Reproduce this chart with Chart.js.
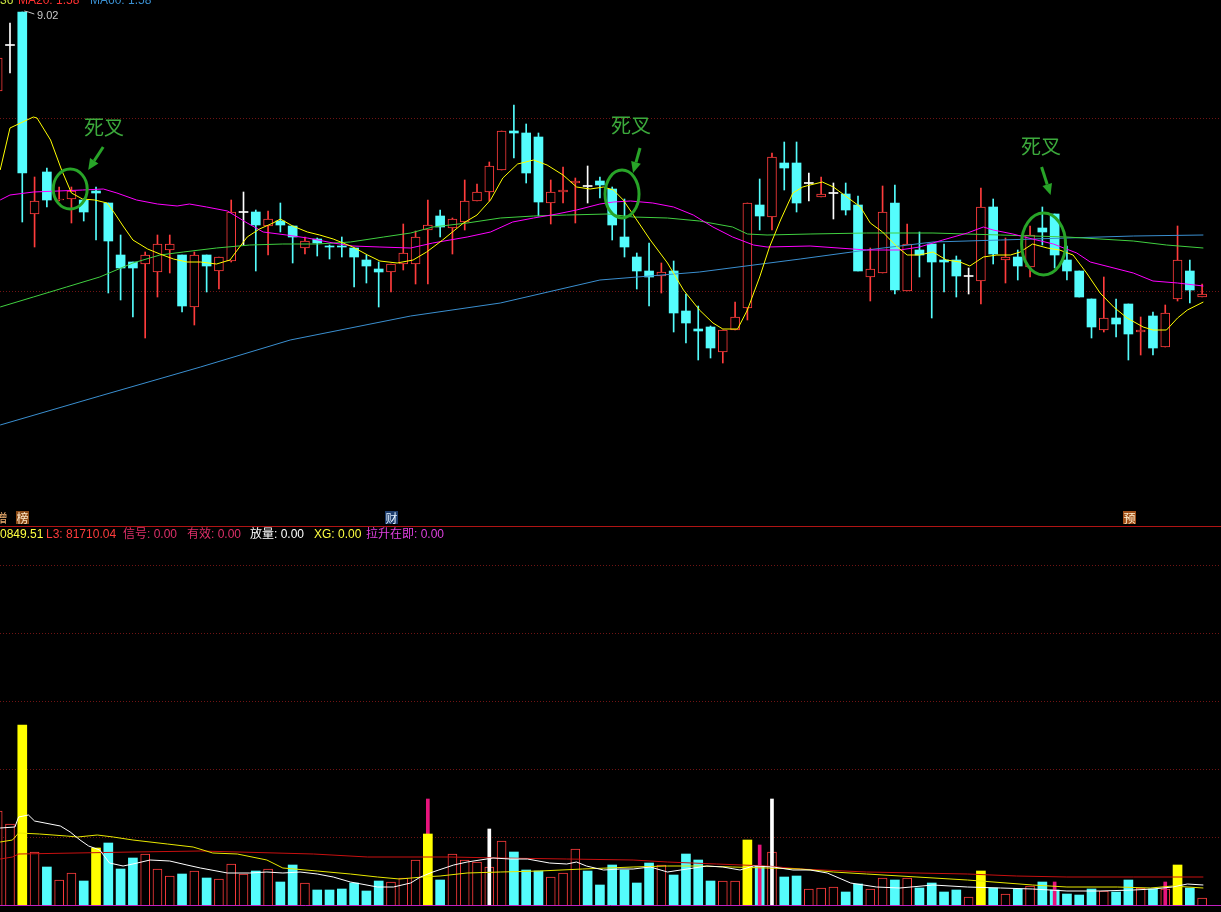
<!DOCTYPE html>
<html>
<head>
<meta charset="utf-8">
<script src="https://cdn.jsdelivr.net/npm/chart.js@4.4.1/dist/chart.umd.min.js"></script>
<style>
html, body { margin: 0; padding: 0; background: #000; width: 1221px; height: 912px; overflow: hidden; position: relative; font-family: "Liberation Sans", "Noto Sans CJK SC", sans-serif; }
canvas { position: absolute; left: 0; }
#kline { top: 0; }
#vol { top: 527px; }
.t { position: absolute; white-space: nowrap; font-size: 12px; line-height: 14px; }
.tag { position: absolute; top: 511px; width: 13px; height: 13px; font-size: 12px; line-height: 13px; text-align: center; font-family: "Noto Sans CJK SC", sans-serif; }
.dc { position: absolute; font-family: "Noto Sans CJK SC", sans-serif; font-size: 20px; line-height: 22px; color: #3caa3c; }
#sep { position: absolute; left: 0; top: 526px; width: 1221px; height: 1px; background: #b01414; }
</style>
</head>
<body>
<canvas id="kline" width="1221" height="510"></canvas>
<canvas id="vol" width="1221" height="385"></canvas>
<div id="sep"></div>

<div class="t" style="top:-7px;left:0;color:#c8e040">36</div>
<div class="t" style="top:-7px;left:18px;color:#ff3030">MA20: 1.58</div>
<div class="t" style="top:-7px;left:90px;color:#3a8fd0">MA60: 1.58</div>
<div class="t" style="top:8px;left:37px;font-size:11px;color:#c8c8c8">9.02</div>

<div class="dc" style="left:84px;top:116px">死叉</div>
<div class="dc" style="left:611px;top:114px">死叉</div>
<div class="dc" style="left:1021px;top:135px">死叉</div>

<div class="tag" style="left:-5px;color:#f0b070">增</div>
<div class="tag" style="left:16px;background:#8b4a16;color:#ffe8c8">榜</div>
<div class="tag" style="left:385px;background:#1c3c6c;color:#e0f0ff">财</div>
<div class="tag" style="left:1123px;background:#a0501a;color:#fff0d0">预</div>

<div class="t" style="top:527px;left:0;color:#ffff40">0849.51</div>
<div class="t" style="top:527px;left:46px;color:#ff3c3c">L3: 81710.04</div>
<div class="t" style="top:527px;left:123px;color:#e0306a">信号: 0.00</div>
<div class="t" style="top:527px;left:187px;color:#e0306a">有效: 0.00</div>
<div class="t" style="top:527px;left:250px;color:#ffffff">放量: 0.00</div>
<div class="t" style="top:527px;left:314px;color:#ffff40">XG: 0.00</div>
<div class="t" style="top:527px;left:366px;color:#e040e0">拉升在即: 0.00</div>

<script>
// daily candles, price in yuan
const openP = [8.23, 8.69, 9.02, 7.00, 7.42, 7.14, 7.15, 7.14, 7.23, 7.11,
    6.59, 6.52, 6.50, 6.42, 6.64, 6.59, 6.07, 6.59, 6.43, 6.53,
    7.02, 7.02, 6.88, 6.93, 6.88, 6.66, 6.75, 6.68, 6.68, 6.66,
    6.54, 6.45, 6.42, 6.50, 6.50, 6.84, 6.98, 6.86, 6.92, 7.13,
    7.22, 7.44, 7.83, 7.81, 7.77, 7.11, 7.22, 7.31, 7.28, 7.33,
    7.25, 6.77, 6.57, 6.43, 6.38, 6.43, 6.03, 5.85, 5.87, 5.62,
    5.84, 6.06, 7.09, 6.97, 7.51, 7.51, 7.31, 7.17, 7.21, 7.20,
    7.09, 6.37, 6.41, 7.11, 6.23, 6.64, 6.70, 6.54, 6.54, 6.38,
    6.33, 7.07, 6.54, 6.57, 6.47, 6.86, 7.00, 6.54, 6.43, 6.15,
    5.84, 5.96, 6.10, 5.82, 5.98, 5.67, 6.15, 6.43, 6.17];
const highP = [8.62, 8.91, 9.02, 7.37, 7.46, 7.27, 7.27, 7.15, 7.27, 7.11,
    6.79, 6.52, 6.62, 6.79, 6.79, 6.59, 6.62, 6.59, 6.57, 7.14,
    7.22, 7.04, 7.03, 7.11, 6.88, 6.77, 6.76, 6.69, 6.77, 6.66,
    6.59, 6.52, 6.50, 6.90, 6.83, 7.14, 7.04, 6.96, 7.34, 7.30,
    7.52, 7.83, 8.09, 7.90, 7.81, 7.34, 7.47, 7.36, 7.48, 7.37,
    7.27, 7.15, 6.61, 6.71, 6.51, 6.53, 6.20, 6.08, 5.88, 5.84,
    6.12, 7.11, 7.35, 7.61, 7.72, 7.72, 7.41, 7.37, 7.31, 7.31,
    7.18, 6.66, 7.28, 7.29, 6.90, 6.82, 6.70, 6.70, 6.58, 6.46,
    7.26, 7.15, 6.76, 6.64, 6.88, 7.07, 7.00, 6.68, 6.43, 6.15,
    6.37, 6.15, 6.10, 5.97, 6.02, 6.09, 6.88, 6.54, 6.30];
const lowP = [8.18, 8.41, 6.92, 6.67, 7.07, 7.13, 6.91, 6.93, 6.74, 6.21,
    6.14, 5.97, 5.76, 6.17, 6.41, 6.02, 5.89, 6.22, 6.25, 6.52,
    6.69, 6.43, 6.59, 6.82, 6.51, 6.60, 6.58, 6.55, 6.57, 6.27,
    6.31, 6.07, 6.22, 6.44, 6.30, 6.30, 6.77, 6.60, 6.84, 7.13,
    7.13, 7.44, 7.56, 7.31, 6.98, 6.90, 7.11, 6.91, 7.11, 7.16,
    6.74, 6.57, 6.25, 6.08, 6.21, 5.82, 5.71, 5.54, 5.56, 5.51,
    5.84, 5.94, 6.84, 6.84, 7.24, 7.02, 7.13, 7.17, 6.95, 6.99,
    6.43, 6.13, 6.41, 6.20, 6.23, 6.37, 5.96, 6.22, 6.17, 6.20,
    6.10, 6.50, 6.31, 6.34, 6.37, 6.69, 6.46, 6.34, 6.17, 5.76,
    5.82, 5.77, 5.54, 5.59, 5.59, 5.67, 6.13, 6.11, 6.17];
const closeP = [8.56, 8.69, 7.41, 7.13, 7.14, 7.15, 7.23, 7.02, 7.21, 6.73,
    6.46, 6.46, 6.59, 6.70, 6.70, 6.08, 6.59, 6.48, 6.57, 7.02,
    7.02, 6.89, 6.95, 6.89, 6.77, 6.73, 6.71, 6.67, 6.67, 6.57,
    6.48, 6.42, 6.50, 6.61, 6.77, 6.89, 6.87, 6.95, 7.13, 7.22,
    7.48, 7.83, 7.81, 7.41, 7.12, 7.22, 7.24, 7.33, 7.28, 7.29,
    6.89, 6.67, 6.43, 6.37, 6.42, 6.01, 5.91, 5.83, 5.66, 5.84,
    5.97, 7.11, 6.98, 7.57, 7.46, 7.11, 7.31, 7.20, 7.21, 7.04,
    6.43, 6.45, 7.02, 6.24, 6.70, 6.59, 6.52, 6.52, 6.38, 6.38,
    7.07, 6.60, 6.57, 6.48, 6.79, 6.82, 6.59, 6.43, 6.17, 5.87,
    5.96, 5.90, 5.80, 5.84, 5.66, 6.01, 6.54, 6.24, 6.20];

// volume (arbitrary units, grid step = 68)
const volume = [94, 81, 180, 53, 38, 25, 32, 24, 57, 62,
    36, 47, 51, 36, 29, 31, 34, 27, 26, 41,
    31, 34, 36, 23, 40, 22, 15, 15, 16, 22,
    14, 24, 23, 27, 45, 71, 25, 51, 45, 43,
    38, 64, 53, 35, 34, 28, 32, 56, 34, 20,
    40, 35, 22, 42, 40, 30, 51, 45, 24, 24,
    24, 65, 39, 53, 28, 29, 16, 17, 18, 13,
    21, 16, 27, 25, 27, 17, 22, 13, 15, 8,
    34, 17, 11, 16, 19, 23, 15, 11, 10, 16,
    14, 13, 25, 17, 16, 16, 40, 17, 7];
const fangLiangDays = [2, 8, 35, 61, 80, 96];
const laShengBars = [[35, 106], [62, 60], [86, 23], [95, 23]];
const xinHaoBars = [[40, 76], [63, 106]];

// moving averages: [day index, value]
const ma5 = [[0.2, 7.44], [1.0, 7.86], [2.9, 7.97], [3.2, 7.96], [4.3, 7.74], [5.2, 7.44], [6.0, 7.21], [6.9, 7.15],
    [7.9, 7.14], [8.9, 7.11], [9.5, 7.01], [10.2, 6.88], [11.0, 6.74], [12.2, 6.65], [13.2, 6.60], [14.3, 6.55],
    [15.4, 6.52], [16.5, 6.52], [17.8, 6.50], [18.9, 6.54], [19.5, 6.64], [20.3, 6.77], [21.3, 6.85], [22.4, 6.91],
    [23.0, 6.95], [24.0, 6.88], [25.2, 6.82], [26.2, 6.79], [27.3, 6.75], [28.1, 6.71], [28.9, 6.67], [30.1, 6.59],
    [31.1, 6.53], [32.5, 6.51], [33.8, 6.54], [34.9, 6.62], [36.2, 6.74], [37.9, 6.91], [39.0, 6.99], [40.1, 7.14],
    [41.1, 7.36], [42.3, 7.50], [43.6, 7.54], [44.7, 7.49], [46.0, 7.39], [47.1, 7.27], [48.2, 7.25], [49.3, 7.27],
    [50.1, 7.24], [50.9, 7.14], [52.0, 6.94], [53.1, 6.74], [54.5, 6.51], [55.8, 6.24], [57.1, 6.04], [58.2, 5.91],
    [59.0, 5.85], [60.2, 5.85], [61.0, 6.04], [62.0, 6.37], [62.8, 6.67], [63.7, 6.94], [64.7, 7.21], [65.5, 7.27],
    [66.1, 7.29], [67.1, 7.32], [68.0, 7.27], [69.1, 7.17], [70.2, 7.07], [71.0, 6.91], [72.0, 6.82], [73.2, 6.67],
    [74.0, 6.59], [75.0, 6.59], [76.1, 6.62], [77.2, 6.54], [78.3, 6.52], [79.1, 6.48], [80.2, 6.57], [81.3, 6.59],
    [82.4, 6.59], [83.2, 6.62], [84.2, 6.70], [85.4, 6.66], [86.4, 6.64], [87.5, 6.59], [88.6, 6.41], [89.7, 6.21],
    [90.8, 6.07], [91.9, 5.96], [93.2, 5.87], [94.0, 5.84], [95.1, 5.84], [96.0, 5.96], [96.8, 6.04], [98.1, 6.12]];
const ma10 = [[0.2, 7.14], [1.0, 7.19], [2.9, 7.22], [6.9, 7.24], [8.6, 7.25], [9.7, 7.21], [11.3, 7.14], [13.0, 7.10],
    [14.6, 7.08], [15.6, 7.10], [17.0, 7.07], [18.7, 7.03], [20.3, 6.91], [21.6, 6.82], [23.5, 6.79], [25.2, 6.76],
    [27.3, 6.71], [28.9, 6.68], [31.1, 6.67], [33.6, 6.66], [35.4, 6.71], [38.2, 6.77], [40.1, 6.82], [41.9, 6.92],
    [43.6, 6.96], [45.5, 7.00], [47.1, 7.04], [49.0, 7.10], [50.1, 7.12], [51.5, 7.13], [53.3, 7.11], [55.0, 7.07],
    [56.6, 6.99], [58.2, 6.87], [59.8, 6.77], [61.5, 6.69], [62.6, 6.67], [66.1, 6.68], [70.7, 6.64], [73.4, 6.64],
    [75.0, 6.67], [76.9, 6.74], [78.9, 6.81], [80.2, 6.87], [81.0, 6.84], [82.6, 6.80], [84.2, 6.75], [85.9, 6.70],
    [87.8, 6.61], [88.9, 6.52], [90.5, 6.47], [92.4, 6.41], [94.0, 6.33], [96.0, 6.31], [98.1, 6.28]];
const ma20 = [[0.2, 6.07], [2.9, 6.17], [5.6, 6.27], [8.3, 6.37], [11.0, 6.51], [13.2, 6.59], [15.1, 6.62], [17.8, 6.66],
    [20.5, 6.69], [23.2, 6.70], [26.0, 6.70], [28.7, 6.72], [31.4, 6.77], [33.6, 6.81], [35.4, 6.87], [38.2, 6.91],
    [40.9, 6.96], [43.6, 6.98], [46.3, 6.99], [49.6, 7.00], [51.7, 6.97], [54.5, 6.96], [57.1, 6.93], [59.8, 6.87],
    [61.0, 6.80], [62.6, 6.79], [66.1, 6.80], [70.7, 6.81], [76.1, 6.81], [81.6, 6.79], [87.0, 6.77], [92.4, 6.73],
    [95.1, 6.69], [98.1, 6.66]];
const ma60 = [[0.2, 4.89], [8.3, 5.18], [16.5, 5.47], [23.8, 5.74], [33.6, 5.98], [40.9, 6.11], [49.0, 6.34],
    [57.1, 6.42], [65.3, 6.55], [70.7, 6.64], [76.1, 6.72], [81.6, 6.74], [87.0, 6.76], [92.4, 6.78], [98.1, 6.79]];

const volMa1 = [[0.2, 77], [1.4, 78], [1.7, 88], [2.5, 90], [3.0, 84], [5.1, 79], [5.9, 73], [6.7, 65], [7.4, 59],
    [8.3, 55], [9.1, 42], [10.2, 39], [11.0, 41], [12.4, 45], [14.0, 44], [15.4, 40], [16.5, 37], [18.7, 32],
    [20.5, 32], [21.9, 33], [23.2, 32], [24.6, 33], [26.0, 31], [27.3, 28], [28.7, 23], [30.9, 18], [32.2, 18],
    [33.6, 22], [34.4, 28], [35.4, 33], [37.1, 40], [38.2, 43], [40.3, 47], [41.7, 46], [43.1, 46], [44.9, 42],
    [46.3, 41], [47.1, 43], [47.9, 39], [49.3, 35], [50.6, 36], [51.7, 36], [53.1, 38], [54.5, 33], [56.1, 36],
    [57.7, 39], [59.0, 38], [60.4, 35], [61.5, 39], [63.1, 38], [64.7, 35], [66.1, 35], [67.5, 32], [69.4, 22],
    [71.5, 18], [73.4, 17], [76.1, 20], [78.9, 18], [81.6, 17], [84.2, 16], [87.0, 14], [89.7, 14], [92.4, 15],
    [94.0, 16], [95.6, 18], [96.8, 21], [98.1, 20]];
const volMa2 = [[0.2, 63], [1.2, 65], [1.7, 72], [3.4, 71], [5.6, 69], [6.5, 68], [8.1, 70], [9.4, 68], [11.0, 65],
    [13.8, 61], [15.9, 58], [17.5, 52], [19.5, 51], [21.9, 45], [23.2, 37], [26.0, 34], [28.7, 31], [30.9, 28],
    [32.7, 26], [34.6, 28], [36.0, 29], [38.2, 32], [40.9, 33], [44.1, 34], [47.6, 36], [51.7, 38], [54.5, 39],
    [57.1, 39], [59.8, 38], [62.6, 37], [65.3, 36], [68.0, 33], [70.7, 31], [74.8, 28], [78.9, 25], [84.2, 20],
    [87.0, 18], [91.1, 18], [93.8, 17], [95.6, 19], [98.1, 17]];
const volMa3 = [[0.2, 46], [1.2, 48], [1.7, 51], [11.0, 53], [16.5, 54], [25.7, 51], [30.1, 48], [36.8, 48],
    [40.9, 47], [46.3, 46], [51.7, 45], [54.5, 43], [58.5, 41], [62.6, 39], [65.3, 36], [70.7, 33], [74.8, 32],
    [78.9, 31], [82.9, 29], [87.0, 28], [92.4, 28], [98.1, 28]];

const priceGrid = [7.96, 6.23];
const volGrid = [68, 136, 204, 272, 340];
const deathCross = [[5.9, 7.25], [50.8, 7.20], [85.1, 6.70]];
const highMark = [2, 9.02];

const UP = '#ff3c3c';
const DOWN = '#54fcfc';
const DOJI = '#ffffff';
const GREEN = '#28a428';

const xMin = 0.187;
const xAxis = { type: 'linear', display: false, offset: false, min: xMin, max: xMin + 1221 / 12.29 };

function candleColor(i) {
    if (closeP[i] > openP[i]) return UP;
    if (closeP[i] < openP[i]) return DOWN;
    return DOJI;
}
function volUp(i) {
    if (closeP[i] !== openP[i]) return closeP[i] > openP[i];
    return i === 0 || closeP[i] >= closeP[i - 1];
}
function toPts(arr) {
    return arr.map(p => ({ x: p[0], y: p[1] }));
}
function lineSet(arr, color) {
    return { type: 'line', data: toPts(arr), borderColor: color, borderWidth: 1, pointRadius: 0, fill: false, tension: 0 };
}
function gridAxis(min, max, ticks) {
    return {
        display: true, position: 'left', min: min, max: max,
        ticks: { display: false },
        border: { display: false, dash: [1, 2] },
        grid: { color: '#701414', lineWidth: 1, drawTicks: false },
        afterBuildTicks: axis => { axis.ticks = ticks.map(v => ({ value: v })); },
        afterFit: axis => { axis.width = 0; },
    };
}

const days = openP.map((_, i) => i);

const bodies = days.map(i => {
    const lo = Math.min(openP[i], closeP[i]);
    const hi = Math.max(openP[i], closeP[i]);
    if (hi - lo < 0.005) return { x: i, y: [lo - 0.005, lo + 0.005] };
    return { x: i, y: [lo, hi] };
});
const wicks = days.map(i => ({ x: i, y: [lowP[i], highP[i]] }));

// circles, arrows and the high-price leader line
const markShapes = [[17, 20, 33, -42, 18, -19], [17, 24, 18, -46, 11, -21], [22, 31, -2, -77, 7, -49]];
const klineMarks = {
    id: 'klineMarks',
    afterDatasetsDraw(chart) {
        const { ctx, scales: { x, y } } = chart;
        ctx.save();
        const hx = x.getPixelForValue(highMark[0]);
        const hy = y.getPixelForValue(highMark[1]);
        ctx.strokeStyle = '#c8c8c8';
        ctx.lineWidth = 1;
        ctx.beginPath();
        ctx.moveTo(hx + 2, hy - 1);
        ctx.lineTo(hx + 6, hy);
        ctx.lineTo(hx + 12, hy + 2);
        ctx.stroke();

        ctx.strokeStyle = GREEN;
        ctx.fillStyle = GREEN;
        deathCross.forEach((d, k) => {
            const [rx, ry, tx, ty, hx2, hy2] = markShapes[k];
            const cx = x.getPixelForValue(d[0]);
            const cy = y.getPixelForValue(d[1]);
            ctx.lineWidth = 3;
            ctx.beginPath();
            ctx.ellipse(cx, cy, rx, ry, 0, 0, Math.PI * 2);
            ctx.stroke();
            drawArrow(ctx, cx + tx, cy + ty, cx + hx2, cy + hy2);
        });
        ctx.restore();
    }
};
function drawArrow(ctx, x1, y1, x2, y2) {
    const a = Math.atan2(y2 - y1, x2 - x1);
    const len = 11, half = 5;
    const bx = x2 - len * Math.cos(a), by = y2 - len * Math.sin(a);
    ctx.lineWidth = 3;
    ctx.beginPath();
    ctx.moveTo(x1, y1);
    ctx.lineTo(bx, by);
    ctx.stroke();
    ctx.beginPath();
    ctx.moveTo(x2, y2);
    ctx.lineTo(bx + half * Math.sin(a), by - half * Math.cos(a));
    ctx.lineTo(bx - half * Math.sin(a), by + half * Math.cos(a));
    ctx.closePath();
    ctx.fill();
}

new Chart(document.getElementById('kline').getContext('2d'), {
    type: 'bar',
    data: {
        datasets: [
            lineSet(ma5, '#ffff00'),
            lineSet(ma10, '#ff00ff'),
            lineSet(ma20, '#40d040'),
            lineSet(ma60, '#3a8fd0'),
            {
                data: bodies,
                grouped: false,
                barThickness: 9,
                borderSkipped: false,
                backgroundColor: days.map(i => closeP[i] > openP[i] ? '#000000' : candleColor(i)),
                borderColor: days.map(i => candleColor(i)),
                borderWidth: days.map(i => closeP[i] > openP[i] ? 1 : 0),
            },
            {
                data: wicks,
                grouped: false,
                barThickness: 1,
                borderWidth: 0,
                backgroundColor: days.map(i => candleColor(i)),
            },
        ],
    },
    options: {
        responsive: false,
        animation: false,
        layout: { padding: 0 },
        plugins: { legend: { display: false }, tooltip: { enabled: false } },
        scales: {
            x: xAxis,
            y: gridAxis(9.14 - 5.10, 9.14, priceGrid),
        },
    },
    plugins: [klineMarks],
});

// volume pane
const volBaseline = {
    id: 'volBaseline',
    afterDatasetsDraw(chart) {
        const { ctx, chartArea, scales: { y } } = chart;
        const yy = Math.round(y.getPixelForValue(0)) + 0.5;
        ctx.save();
        ctx.strokeStyle = '#c020c0';
        ctx.lineWidth = 1;
        ctx.beginPath();
        ctx.moveTo(chartArea.left, yy);
        ctx.lineTo(chartArea.right, yy);
        ctx.stroke();
        ctx.restore();
    }
};

const normalDays = days.filter(i => !fangLiangDays.includes(i));

new Chart(document.getElementById('vol').getContext('2d'), {
    type: 'bar',
    data: {
        datasets: [
            lineSet(volMa1, '#ffffff'),
            lineSet(volMa2, '#e8e800'),
            lineSet(volMa3, '#c81010'),
            {
                data: fangLiangDays.map(i => ({ x: i, y: volume[i] })),
                grouped: false,
                barThickness: 9,
                borderWidth: 0,
                backgroundColor: '#ffff00',
            },
            {
                data: laShengBars.map(b => ({ x: b[0], y: b[1] })),
                grouped: false,
                barThickness: 3,
                borderWidth: 0,
                backgroundColor: '#e8147c',
            },
            {
                data: xinHaoBars.map(b => ({ x: b[0], y: b[1] })),
                grouped: false,
                barThickness: 3,
                borderWidth: 0,
                backgroundColor: '#ffffff',
            },
            {
                data: normalDays.map(i => ({ x: i, y: volume[i] })),
                grouped: false,
                barThickness: 9,
                borderSkipped: 'start',
                backgroundColor: normalDays.map(i => volUp(i) ? '#000000' : DOWN),
                borderColor: normalDays.map(i => volUp(i) ? UP : DOWN),
                borderWidth: normalDays.map(i => volUp(i) ? 1 : 0),
            },
        ],
    },
    options: {
        responsive: false,
        animation: false,
        layout: { padding: { top: 0, bottom: 7, left: 0, right: 0 } },
        plugins: { legend: { display: false }, tooltip: { enabled: false } },
        scales: {
            x: xAxis,
            y: gridAxis(0, 378, volGrid),
        },
    },
    plugins: [volBaseline],
});
</script>
</body>
</html>
